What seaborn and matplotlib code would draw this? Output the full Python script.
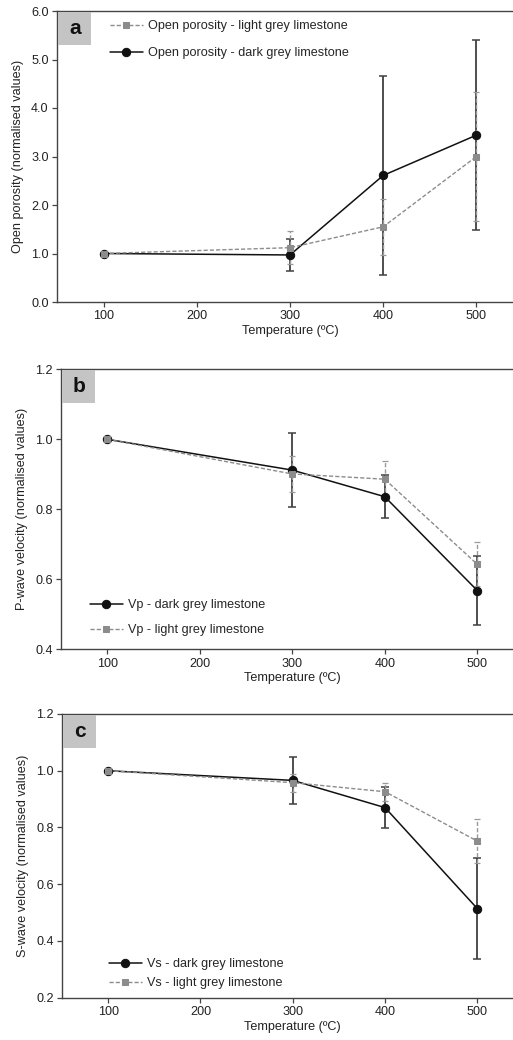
import numpy as np
import pandas as pd
import seaborn as sns
import matplotlib
matplotlib.use("Agg")
import matplotlib.pyplot as plt
from matplotlib.patches import Rectangle

# Temperatures (ºC)
temps = [100, 300, 400, 500]

# Open porosity (normalised) with standard deviations
por_light = [1.0, 1.12, 1.55, 3.00]
por_light_err = [0.0, 0.34, 0.58, 1.33]
por_dark = [1.0, 0.97, 2.61, 3.44]
por_dark_err = [0.0, 0.33, 2.05, 1.96]

# P-wave velocity (normalised)
vp_dark = [1.0, 0.912, 0.836, 0.568]
vp_dark_err = [0.0, 0.105, 0.061, 0.099]
vp_light = [1.0, 0.901, 0.886, 0.643]
vp_light_err = [0.0, 0.051, 0.053, 0.063]

# S-wave velocity (normalised)
vs_dark = [1.0, 0.966, 0.870, 0.514]
vs_dark_err = [0.0, 0.083, 0.073, 0.177]
vs_light = [1.0, 0.958, 0.926, 0.752]
vs_light_err = [0.0, 0.032, 0.031, 0.078]

sns.set_theme(style="ticks")
plt.rcParams["font.family"] = ["Liberation Sans", "DejaVu Sans"]
plt.rcParams["axes.edgecolor"] = "#444444"
plt.rcParams["xtick.color"] = "#444444"
plt.rcParams["ytick.color"] = "#444444"
plt.rcParams["xtick.labelcolor"] = "#222222"
plt.rcParams["ytick.labelcolor"] = "#222222"

W, H = 513, 1040
FS = 9.1
fig = plt.figure(figsize=(W / 100, H / 100), dpi=100)

DARK = "#111111"
LIGHT = "#8c8c8c"
DARK_ERR = "#404040"
LIGHT_ERR = "#9a9a9a"


def px_axes(left, top, bottom, unit_px):
    width = unit_px * 5.0
    return fig.add_axes([left / W, 1 - bottom / H, width / W, (bottom - top) / H])


def draw_series(ax, y, err, kind, label):
    df = pd.DataFrame({"T": temps, "v": y})
    if kind == "dark":
        ax.errorbar(temps, y, yerr=err, fmt="none", ecolor=DARK_ERR,
                    elinewidth=1.3, capsize=2.8, capthick=1.1, zorder=2)
        sns.lineplot(data=df, x="T", y="v", ax=ax, color=DARK, lw=1.1,
                     marker="o", markersize=6, markeredgecolor=DARK,
                     markerfacecolor=DARK, label=label, zorder=4)
    else:
        eb = ax.errorbar(temps, y, yerr=err, fmt="none", ecolor=LIGHT_ERR,
                         elinewidth=1.0, capsize=2.2, capthick=0.9, zorder=3)
        for c in eb[2]:
            c.set_linestyle((0, (3, 1.5)))
        sns.lineplot(data=df, x="T", y="v", ax=ax, color=LIGHT, lw=1.0,
                     marker="s", markersize=5, markeredgecolor=LIGHT,
                     markerfacecolor=LIGHT, label=label, zorder=5,
                     linestyle=(0, (3, 1.5)))


def style_axes(ax, ylim, yticks, ylabel, letter, box_w, box_h):
    ax.set_xlim(50, 550)
    ax.set_ylim(*ylim)
    ax.set_xticks([100, 200, 300, 400, 500])
    ax.set_yticks(yticks)
    ax.set_yticklabels([f"{t:.1f}" for t in yticks])
    ax.tick_params(axis="both", labelsize=FS, length=3.5, width=0.9,
                   direction="out", pad=2.5)
    ax.set_xlabel("Temperature (ºC)", fontsize=FS, color="#222222", labelpad=2)
    ax.set_ylabel(ylabel, fontsize=FS, color="#222222", labelpad=5)
    for s in ax.spines.values():
        s.set_linewidth(1.0)
    ax.add_patch(Rectangle((0.003, 1 - 0.004), box_w, -box_h,
                           transform=ax.transAxes, facecolor="#c4c4c4",
                           edgecolor="none", zorder=6, clip_on=False))
    ax.text(0.003 + box_w / 2, 1 - 0.004 - box_h / 2, letter,
            transform=ax.transAxes, ha="center", va="center",
            fontsize=15, fontweight="bold", color="#111111", zorder=7)


def add_legend(ax, x_px, y_px, w_px, h_px, spacing):
    ax.legend(loc="upper left", bbox_to_anchor=(x_px / w_px, 1 - y_px / h_px),
              frameon=False, fontsize=FS, handlelength=2.6, handletextpad=0.4,
              labelspacing=spacing, borderaxespad=0)


# Panel a
ax_a = px_axes(57, 11, 302, 93.2)
draw_series(ax_a, por_light, por_light_err, "light", "Open porosity - light grey limestone")
draw_series(ax_a, por_dark, por_dark_err, "dark", "Open porosity - dark grey limestone")
style_axes(ax_a, (0, 6), [0, 1, 2, 3, 4, 5, 6],
           "Open porosity (normalised values)", "a", 33 / 466, 33 / 291)
add_legend(ax_a, 48, 4, 466, 291, 1.2)

# Panel b
ax_b = px_axes(61, 369.3, 649.3, 92.5)
draw_series(ax_b, vp_dark, vp_dark_err, "dark", "Vp - dark grey limestone")
draw_series(ax_b, vp_light, vp_light_err, "light", "Vp - light grey limestone")
style_axes(ax_b, (0.4, 1.2), [0.4, 0.6, 0.8, 1.0, 1.2],
           "P-wave velocity (normalised values)", "b", 33 / 462.5, 33 / 280)
add_legend(ax_b, 24, 225, 462.5, 280, 1.0)

# Panel c
ax_c = px_axes(62, 714, 997.7, 92.3)
draw_series(ax_c, vs_dark, vs_dark_err, "dark", "Vs - dark grey limestone")
draw_series(ax_c, vs_light, vs_light_err, "light", "Vs - light grey limestone")
style_axes(ax_c, (0.2, 1.2), [0.2, 0.4, 0.6, 0.8, 1.0, 1.2],
           "S-wave velocity (normalised values)", "c", 33 / 461.5, 33 / 283.7)
add_legend(ax_c, 42, 239, 461.5, 283.7, 0.55)

fig.savefig("out.png", dpi=100)
